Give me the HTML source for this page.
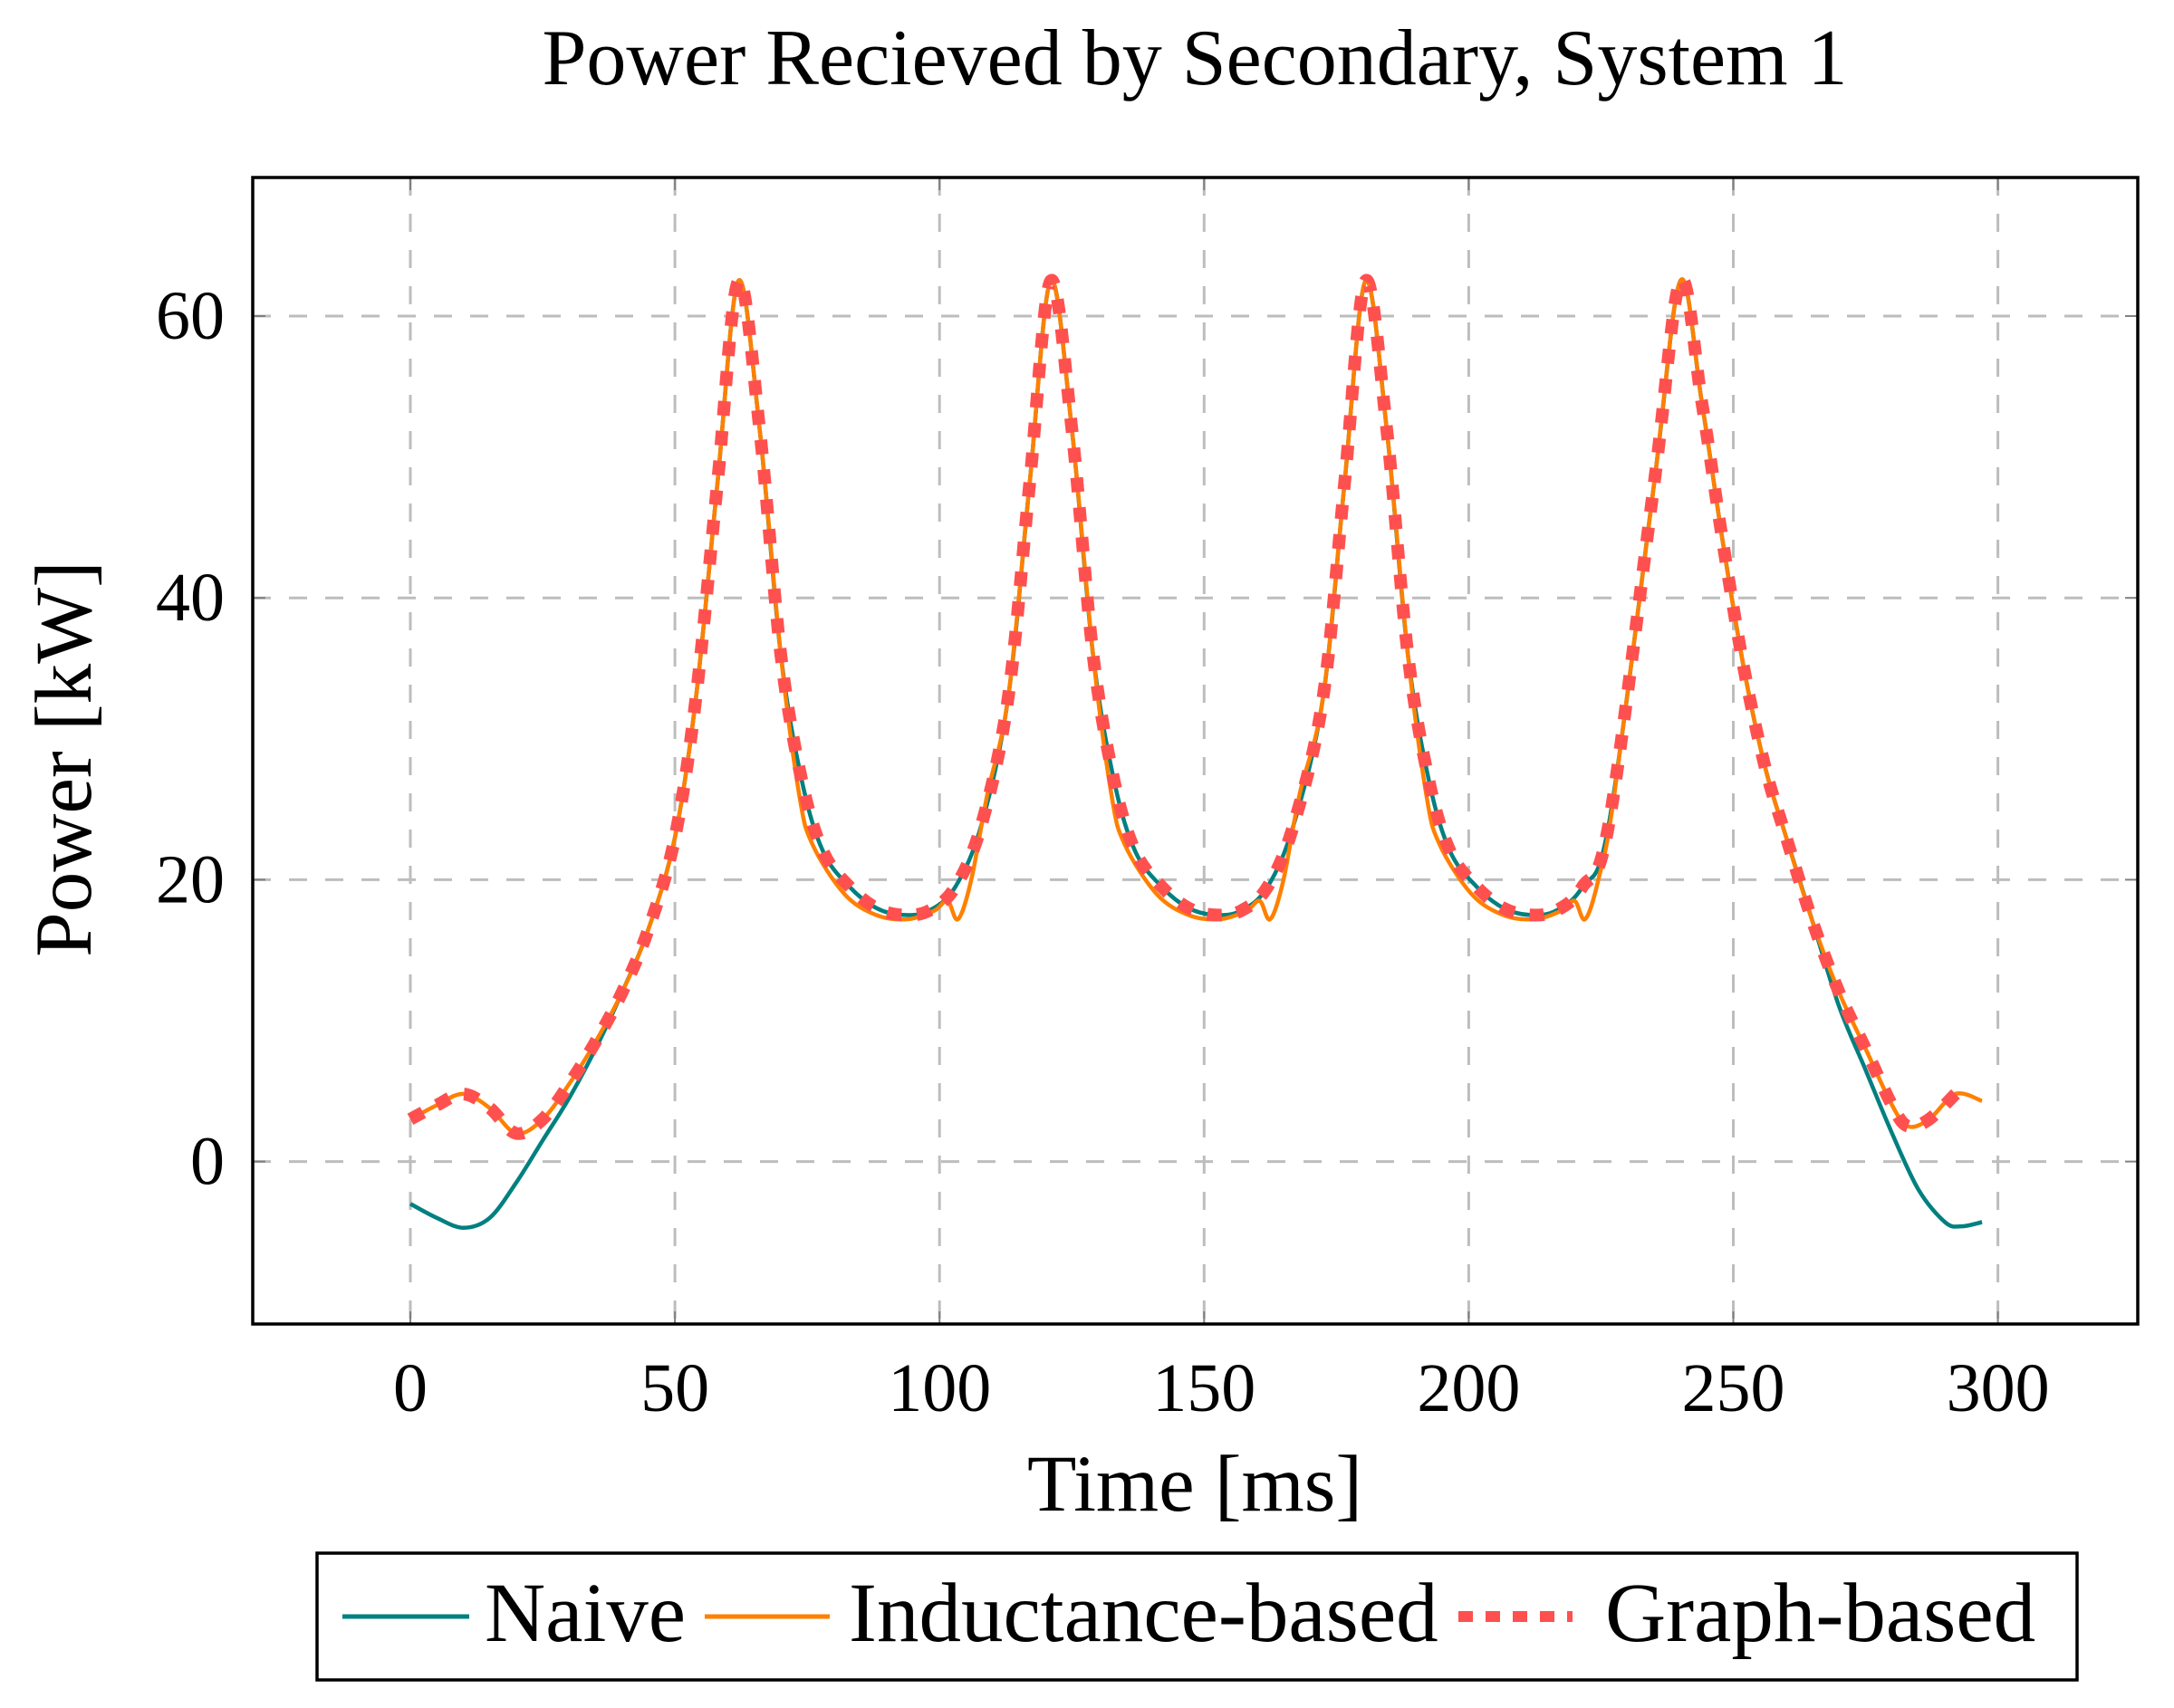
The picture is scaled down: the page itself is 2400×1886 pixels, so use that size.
<!DOCTYPE html>
<html><head><meta charset="utf-8"><style>
html,body{margin:0;padding:0;background:#fff;}
svg{display:block;}
text{font-family:"Liberation Serif",serif;fill:#000;}
</style></head><body>
<svg id="s" width="2400" height="1886" viewBox="0 0 2400 1886" xmlns="http://www.w3.org/2000/svg">
<text x="1319" y="93" font-size="88" text-anchor="middle">Power Recieved by Secondary, System 1</text>
<g id="grid" stroke="#bdbdbd" stroke-width="3" stroke-dasharray="20 20" fill="none"></g>
<g id="ticks" stroke="#808080" stroke-width="2"></g>
<g id="lbl" font-size="76"></g>
<g id="curves" fill="none" stroke-linejoin="round"></g>
<rect x="279" y="196" width="2081" height="1266" fill="none" stroke="#000" stroke-width="3.5"/>
<text x="1319" y="1668" font-size="89" text-anchor="middle">Time [ms]</text>
<text transform="translate(100,838) rotate(-90)" font-size="89" text-anchor="middle">Power [kW]</text>
<rect x="350" y="1715" width="1943" height="140" fill="#fff" stroke="#000" stroke-width="3.5"/>
<line x1="378" y1="1785" x2="518" y2="1785" stroke="#008080" stroke-width="5"/>
<text x="535" y="1812" font-size="93">Naive</text>
<line x1="778" y1="1785" x2="916" y2="1785" stroke="#ff8000" stroke-width="5"/>
<text x="937" y="1812" font-size="93">Inductance-based</text>
<line x1="1610" y1="1785" x2="1736" y2="1785" stroke="#ff5050" stroke-width="12" stroke-dasharray="16 14"/>
<text x="1772" y="1812" font-size="93">Graph-based</text>
</svg>
<script>
const NS="http://www.w3.org/2000/svg";
const X=t=>453+t*5.842, Y=p=>1282.6-p*15.56;
const L=279,R=2360,T=196,B=1462;
function el(tag,attrs,parent,txt){const e=document.createElementNS(NS,tag);for(const k in attrs)e.setAttribute(k,attrs[k]);if(txt!==undefined)e.textContent=txt;document.getElementById(parent).appendChild(e);return e;}
for(let t=0;t<=300;t+=50){const x=X(t);el('line',{x1:x,y1:T,x2:x,y2:B},'grid');
 el('line',{x1:x,y1:B,x2:x,y2:B-14},'ticks');el('line',{x1:x,y1:T,x2:x,y2:T+14},'ticks');
 el('text',{x:x,y:1558,'text-anchor':'middle'},'lbl',String(t));}
for(let p=0;p<=60;p+=20){const y=Y(p);el('line',{x1:L,y1:y,x2:R,y2:y},'grid');
 el('line',{x1:L,y1:y,x2:L+14,y2:y},'ticks');el('line',{x1:R,y1:y,x2:R-14,y2:y},'ticks');
 el('text',{x:248,y:y+25,'text-anchor':'end'},'lbl',String(p));}
function path(pts){let d='M'+X(pts[0][0])+','+Y(pts[0][1]);
 for(let i=0;i<pts.length-1;i++){const p0=pts[Math.max(i-1,0)],p1=pts[i],p2=pts[i+1],p3=pts[Math.min(i+2,pts.length-1)];
  const a=[X(p0[0]),Y(p0[1])],b=[X(p1[0]),Y(p1[1])],c=[X(p2[0]),Y(p2[1])],e=[X(p3[0]),Y(p3[1])];
  const c1=[b[0]+(c[0]-a[0])/6,b[1]+(c[1]-a[1])/6],c2=[c[0]-(e[0]-b[0])/6,c[1]-(e[1]-b[1])/6];
  d+=' C'+c1+' '+c2+' '+c;}
 return d;}
function period(o){return [[54+o,33],[58+o,48],[62+o,62.5],[66+o,52],[70+o,36],[74+o,27],[78+o,22],[83+o,19.5],[88+o,18],[93+o,17.5],[98+o,17.8],[103+o,19.5],[108+o,24]];}
function periodI(o){return [[54+o,33],[58+o,48],[62+o,62.5],[66+o,52],[70+o,36],[73.5+o,26],[76+o,22.5],[82+o,19],[88+o,17.5],[94+o,17.2],[99+o,17.8],[101.5+o,18.5],[103.5+o,17.2],[106+o,20],[109+o,26]];}
const start=[[0,3],[5,4],[10,4.8],[15,3.8],[20,2],[25,3],[30,5.5],[35,8.5],[40,12],[45,16.5],[50,23]];
const tail=[[235,48],[240,62.5],[244,54],[248,44],[252,35],[256,28],[260,23],[265,17],[270,12],[275,8],[280,4],[283,2.5],[287,3],[292,4.8]];
let G=[...start,...period(0),...period(59),...period(118.5),...period(177.5)];
G=G.filter(p=>p[0]<231);G=G.concat(tail);
let I=[...start,...periodI(0),...periodI(59),...periodI(118.5),...periodI(177.5)];
I=I.filter(p=>p[0]<231);I=I.concat(tail,[[297,4.3]]);
let N=[[0,-3],[5,-4],[10,-4.7],[15,-4],[20,-1.5],[25,1.5],[30,4.5],[35,8],[40,12],[45,16.5],[50,23]];
N=N.concat(G.filter(p=>p[0]>50&&p[0]<=265),[[270,11],[275,6.5],[280,2],[285,-2],[290,-4.3],[293,-4.6],[297,-4.3]]);
el('path',{d:path(N),stroke:'#008080','stroke-width':4.5},'curves');
el('path',{d:path(I),stroke:'#ff8000','stroke-width':4.5},'curves');
el('path',{d:path(G),stroke:'#ff5050','stroke-width':14,'stroke-dasharray':'16 17'},'curves');
</script>
</body></html>
